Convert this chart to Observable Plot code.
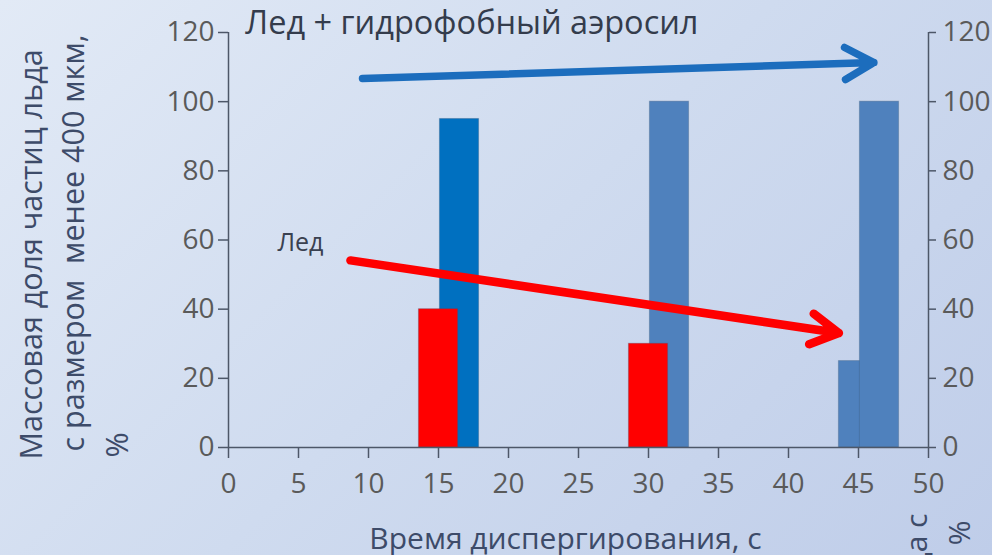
<!DOCTYPE html>
<html>
<head>
<meta charset="utf-8">
<script src="https://cdn.jsdelivr.net/npm/d3@7"></script>
<script src="https://cdn.jsdelivr.net/npm/@observablehq/plot@0.6"></script>
<style>
  html, body { margin: 0; padding: 0; width: 992px; height: 555px; overflow: hidden; }
  body { background: linear-gradient(135deg, #e2eaf6 0%, #cfdbef 50%, #bfcde9 100%); }
  #chart svg { overflow: visible; background: none; }
</style>
</head>
<body>
<div id="chart"></div>
<script>
// Dispersion time, s
const times = [15, 30, 45];
// Mass share of ice particles smaller than 400 µm, %
const iceShare = [40, 30, 25];          // ice alone
const aerosilShare = [95, 100, 100];    // ice + hydrophobic aerosil

// Axis ticks
const xTicks = [0, 5, 10, 15, 20, 25, 30, 35, 40, 45, 50];
const yTicks = [0, 20, 40, 60, 80, 100, 120];

// Trend arrows (data units: time, %)
const aerosilArrow = [[9.57, 106.7], [46.1, 111.3]];
const iceArrow = [[8.71, 54.1], [43.6, 33.1]];

// Styles
const iceFill = ["#ff0000", "#ff0000", "#4f81bd"];
const aerosilFill = ["#0070c0", "#4f81bd", "#4f81bd"];
const iceInFront = [true, true, false];
const FONT = "'Open Sans', sans-serif";
const AXIS = "#4d5768";
const TICK_TEXT = "#5a5a5a";
const TITLE = "#3d4b69";

const halfWidth = 1.4;     // bar half-width, s
const aerosilShift = 1.5;  // aerosil bar drawn right of the ice bar

const iceBars = times.map((t, i) => ({t, v: iceShare[i], fill: iceFill[i], front: iceInFront[i]}));
const aerosilBars = times.map((t, i) => ({t, v: aerosilShare[i], fill: aerosilFill[i]}));
const toSegment = ([[x1, y1], [x2, y2]]) => [{x1, y1, x2, y2}];

const barStyle = {y1: 0, y2: "v", fill: "fill", stroke: "#3d5573", strokeOpacity: 0.3, strokeWidth: 1};
const iceRect = (filter) => Plot.rect(iceBars, {
  x1: d => d.t - halfWidth, x2: d => d.t + halfWidth, filter, ...barStyle
});

const chart = Plot.plot({
  width: 992,
  height: 555,
  marginLeft: 228,
  marginRight: 64,
  marginTop: 32,
  marginBottom: 108,
  style: {background: "none", fontFamily: FONT},
  x: {domain: [0, 50], axis: null},
  y: {domain: [0, 120], axis: null},
  marks: [
    // bars
    iceRect(d => !d.front),
    Plot.rect(aerosilBars, {
      x1: d => d.t + aerosilShift - halfWidth, x2: d => d.t + aerosilShift + halfWidth, ...barStyle
    }),
    iceRect(d => d.front),
    // axis lines
    Plot.ruleX([0, 50], {y1: 0, y2: 120, stroke: AXIS, strokeWidth: 1.5}),
    Plot.ruleY([0], {x1: 0, x2: 50, stroke: AXIS, strokeWidth: 1.5}),
    Plot.axisX({
      ticks: xTicks, tickSize: 11, tickPadding: 15, label: null, tickFormat: d => d,
      stroke: AXIS, strokeWidth: 1.5, fill: TICK_TEXT, fontSize: 28, fontFamily: FONT
    }),
    Plot.axisY({
      anchor: "left", ticks: yTicks, tickSize: 10, tickPadding: 4, label: null,
      stroke: AXIS, strokeWidth: 1.5, fill: TICK_TEXT, fontSize: 28, fontFamily: FONT
    }),
    Plot.axisY({
      anchor: "right", ticks: yTicks, tickSize: 7, tickPadding: 7, label: null,
      stroke: AXIS, strokeWidth: 1.5, fill: TICK_TEXT, fontSize: 28, fontFamily: FONT
    }),
    // trend arrows
    Plot.arrow(toSegment(aerosilArrow), {
      x1: "x1", y1: "y1", x2: "x2", y2: "y2",
      stroke: "#1c6dbd", strokeWidth: 7.5, headLength: 6.6, headAngle: 58
    }),
    Plot.arrow(toSegment(iceArrow), {
      x1: "x1", y1: "y1", x2: "x2", y2: "y2",
      stroke: "#ff0000", strokeWidth: 8.5, headLength: 5.6, headAngle: 58
    }),
    // annotations
    Plot.text(["Лед + гидрофобный аэросил"], {
      x: 1.2, y: 122.6, text: d => d, textAnchor: "start", lineAnchor: "middle",
      fontSize: 32.5, fill: "#343c4c", fontFamily: FONT
    }),
    Plot.text(["Лед"], {
      x: 3.5, y: 59, text: d => d, textAnchor: "start", lineAnchor: "middle",
      fontSize: 25, fill: "#3a4150", fontFamily: FONT
    }),
    // left axis title
    Plot.text(["Массовая доля частиц льда"], {
      frameAnchor: "bottom-left", dx: -196, dy: 12, rotate: -90, text: d => d,
      textAnchor: "start", lineAnchor: "middle", fontSize: 30.5, fill: TITLE, fontFamily: FONT
    }),
    Plot.text(["с размером  менее 400 мкм,"], {
      frameAnchor: "bottom-left", dx: -154, dy: 4, rotate: -90, text: d => d,
      textAnchor: "start", lineAnchor: "middle", fontSize: 30.5, fill: TITLE, fontFamily: FONT
    }),
    Plot.text(["%"], {
      frameAnchor: "bottom-left", dx: -110, dy: 10, rotate: -90, text: d => d,
      textAnchor: "start", lineAnchor: "middle", fontSize: 30.5, fill: TITLE, fontFamily: FONT
    }),
    // right axis title
    Plot.text(["Массовая доля частиц льда с"], {
      frameAnchor: "bottom-right", dx: -11, dy: 66, rotate: -90, text: d => d,
      textAnchor: "end", lineAnchor: "middle", fontSize: 30, fill: TITLE, fontFamily: FONT
    }),
    Plot.text(["размером менее 400 мкм, %"], {
      frameAnchor: "bottom-right", dx: 32, dy: 73, rotate: -90, text: d => d,
      textAnchor: "end", lineAnchor: "middle", fontSize: 30, fill: TITLE, fontFamily: FONT
    }),
    // x axis title
    Plot.text(["Время диспергирования, с"], {
      frameAnchor: "bottom", dx: -13, dy: 80, text: d => d,
      textAnchor: "middle", lineAnchor: "top", fontSize: 30, fill: TITLE, fontFamily: FONT
    })
  ]
});

document.getElementById("chart").append(chart);
</script>
</body>
</html>
